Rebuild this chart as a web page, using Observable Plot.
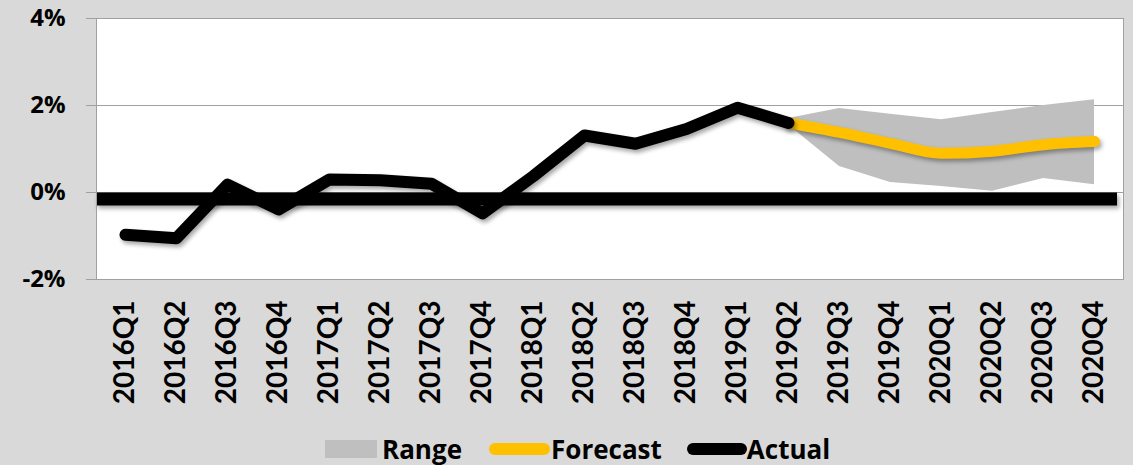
<!DOCTYPE html>
<html>
<head>
<meta charset="utf-8">
<script src="https://cdn.jsdelivr.net/npm/d3@7"></script>
<script src="https://cdn.jsdelivr.net/npm/@observablehq/plot@0.6"></script>
<style>
  html, body { margin: 0; padding: 0; background: #d9d9d9; width: 1133px; height: 465px; overflow: hidden; }
  #chart svg { display: block; }
  .legend { display: flex; align-items: center; height: 45px; padding-top: 6px; padding-left: 325px; font-family: "Open Sans", sans-serif; font-weight: bold; font-size: 26px; color: #000; }
  .legend .item { display: flex; align-items: center; }
  .sw-range { width: 52px; height: 18px; background: #bfbfbf; margin-right: 5px; }
  .sw-fc { width: 61px; height: 12px; border-radius: 6px; background: #FFC000; margin-left: 27px; margin-right: 1px; }
  .sw-act { width: 60px; height: 12px; border-radius: 6px; background: #000; margin-left: 25px; margin-right: 0px; }
</style>
</head>
<body>
<div id="chart"></div>
<div class="legend">
  <div class="item"><span class="sw-range"></span><span>Range</span></div>
  <div class="item"><span class="sw-fc"></span><span>Forecast</span></div>
  <div class="item"><span class="sw-act"></span><span>Actual</span></div>
</div>
<script>
const quarters = ["2016Q1","2016Q2","2016Q3","2016Q4","2017Q1","2017Q2","2017Q3","2017Q4",
  "2018Q1","2018Q2","2018Q3","2018Q4","2019Q1","2019Q2","2019Q3","2019Q4",
  "2020Q1","2020Q2","2020Q3","2020Q4"];
const actualQuarters = quarters.slice(0, 14);
const actualValues = [-0.97, -1.05, 0.18, -0.39, 0.30, 0.28, 0.20, -0.48, 0.38, 1.31, 1.12, 1.46, 1.95, 1.60];
const forecastQuarters = quarters.slice(13);
const forecastValues = [1.60, 1.38, 1.13, 0.90, 0.95, 1.10, 1.17];
const rangeLow = [1.55, 0.60, 0.23, 0.14, 0.03, 0.32, 0.18];
const rangeHigh = [1.70, 1.93, 1.80, 1.67, 1.84, 2.00, 2.13];
const baseline = [-0.15];
const yTicks = [-2, 0, 2, 4];

const actualData = actualQuarters.map((q, i) => ({q, v: actualValues[i]}));
const forecastData = forecastQuarters.map((q, i) => ({q, v: forecastValues[i]}));
const rangeData = forecastQuarters.map((q, i) => ({q, lo: rangeLow[i], hi: rangeHigh[i]}));

const chart = Plot.plot({
  width: 1133,
  height: 420,
  marginLeft: 96,
  marginRight: 10,
  marginTop: 18,
  marginBottom: 141,
  style: { background: "transparent", fontFamily: "Open Sans, sans-serif", color: "#000" },
  x: { type: "point", domain: quarters, padding: 0.5, label: null },
  y: { domain: [-2, 4], label: null },
  marks: [
    Plot.frame({ fill: "white", stroke: "none" }),
    Plot.gridY(yTicks, { stroke: "#a0a0a0", strokeOpacity: 1, strokeWidth: 1 }),
    Plot.ruleY(baseline, { stroke: "black", strokeWidth: 13, insetRight: 6 }),
    Plot.areaY(rangeData, { x: "q", y1: "lo", y2: "hi", fill: "#bfbfbf" }),
    Plot.lineY(forecastData, { x: "q", y: "v", stroke: "#FFC000", strokeWidth: 11, curve: "monotone-x", strokeLinecap: "round" }),
    Plot.lineY(actualData, { x: "q", y: "v", stroke: "black", strokeWidth: 12, strokeLinejoin: "round", strokeLinecap: "round" }),
    Plot.frame({ stroke: "#a0a0a0", strokeWidth: 1 }),
    Plot.axisY({ ticks: yTicks, tickFormat: d => d + "%", tickSize: 10, tickPadding: 21, fontSize: 24, fontWeight: "bold", stroke: "#a0a0a0", fill: "black" }),
    Plot.axisX({ tickRotate: -90, tickSize: 0, tickPadding: 21, fontSize: 28, fontWeight: "bold", fontFamily: "Lato, sans-serif", fill: "black" })
  ]
});
document.getElementById("chart").appendChild(chart);
d3.select(chart).selectAll('g[aria-label="line"], g[aria-label="rule"]')
  .style("filter", "drop-shadow(2px 3px 2px rgba(0,0,0,0.35))");
</script>
</body>
</html>
